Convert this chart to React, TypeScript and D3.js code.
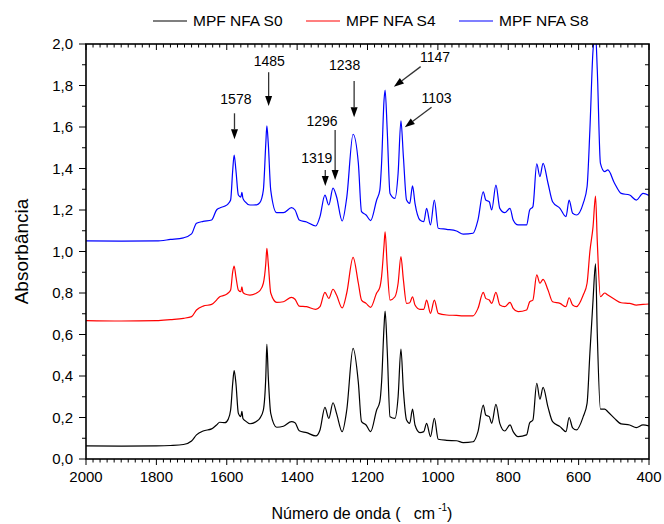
import React from "react";
import * as d3 from "d3";

// FTIR spectra
const wavenumbers = [
  2000, 1900, 1800, 1760, 1723, 1700, 1686, 1667, 1643, 1629,
  1620, 1605, 1596, 1589, 1583, 1579, 1574, 1567, 1560, 1557,
  1554, 1548, 1534, 1515, 1506, 1496, 1489, 1486, 1482, 1475,
  1458, 1439, 1416, 1406, 1394, 1373, 1347, 1335, 1321, 1310,
  1298, 1288, 1272, 1259, 1241, 1226, 1217, 1204, 1191, 1174,
  1165, 1160, 1153, 1150, 1144, 1136, 1122, 1113, 1105, 1098,
  1089, 1080, 1072, 1065, 1051, 1040, 1032, 1021, 1010, 999,
  975, 947, 928, 900, 886, 871, 864, 854, 847, 835,
  824, 810, 795, 786, 772, 748, 739, 730, 719, 710,
  701, 687, 674, 653, 636, 627, 617, 606, 587, 576,
  568, 559, 552, 547, 538, 526, 517, 498, 479, 455,
  436, 417, 400,
];

const s0 = [
  0.063, 0.062, 0.063, 0.065, 0.07, 0.087, 0.116, 0.135, 0.145, 0.164,
  0.177, 0.175, 0.191, 0.236, 0.366, 0.426, 0.366, 0.22, 0.204, 0.23,
  0.195, 0.185, 0.17, 0.182, 0.196, 0.236, 0.397, 0.553, 0.397, 0.22,
  0.153, 0.158, 0.18, 0.175, 0.136, 0.127, 0.111, 0.14, 0.249, 0.196,
  0.271, 0.22, 0.132, 0.236, 0.533, 0.368, 0.18, 0.164, 0.132, 0.236,
  0.276, 0.37, 0.638, 0.713, 0.525, 0.204, 0.196, 0.3, 0.53, 0.332,
  0.188, 0.172, 0.24, 0.164, 0.127, 0.132, 0.172, 0.108, 0.196, 0.095,
  0.09, 0.088, 0.079, 0.083, 0.132, 0.26, 0.212, 0.204, 0.172, 0.263,
  0.172, 0.135, 0.164, 0.132, 0.108, 0.116, 0.175, 0.188, 0.365, 0.288,
  0.345, 0.25, 0.18, 0.156, 0.132, 0.2, 0.15, 0.14, 0.204, 0.268,
  0.51, 0.766, 0.94, 0.606, 0.24, 0.24, 0.228, 0.196, 0.169, 0.164,
  0.151, 0.164, 0.16,
];

const s4 = [
  0.667, 0.665, 0.667, 0.672, 0.678, 0.686, 0.718, 0.737, 0.745, 0.766,
  0.782, 0.79, 0.8, 0.814, 0.903, 0.93, 0.879, 0.814, 0.806, 0.83,
  0.803, 0.795, 0.79, 0.8, 0.811, 0.847, 0.943, 1.015, 0.943, 0.8,
  0.755, 0.758, 0.779, 0.77, 0.737, 0.734, 0.721, 0.734, 0.803, 0.774,
  0.818, 0.79, 0.728, 0.8, 0.972, 0.847, 0.766, 0.75, 0.731, 0.8,
  0.827, 0.879, 1.03, 1.095, 0.93, 0.766, 0.782, 0.847, 0.975, 0.863,
  0.75, 0.753, 0.782, 0.742, 0.721, 0.721, 0.766, 0.702, 0.766, 0.702,
  0.694, 0.692, 0.69, 0.69, 0.726, 0.803, 0.774, 0.766, 0.75, 0.803,
  0.742, 0.734, 0.755, 0.726, 0.71, 0.718, 0.758, 0.766, 0.887, 0.847,
  0.866, 0.814, 0.758, 0.75, 0.734, 0.777, 0.742, 0.734, 0.79, 0.847,
  1.0, 1.12, 1.267, 1.05, 0.782, 0.8, 0.79, 0.77, 0.753, 0.75,
  0.742, 0.745, 0.747,
];

const s8 = [
  1.051, 1.05, 1.051, 1.058, 1.066, 1.085, 1.136, 1.145, 1.152, 1.2,
  1.21, 1.219, 1.23, 1.248, 1.393, 1.465, 1.393, 1.272, 1.262, 1.285,
  1.256, 1.24, 1.224, 1.225, 1.235, 1.296, 1.521, 1.605, 1.521, 1.296,
  1.187, 1.187, 1.211, 1.2, 1.152, 1.142, 1.123, 1.168, 1.272, 1.224,
  1.305, 1.264, 1.147, 1.26, 1.565, 1.425, 1.192, 1.176, 1.149, 1.248,
  1.296, 1.425, 1.73, 1.778, 1.586, 1.28, 1.256, 1.377, 1.63, 1.457,
  1.248, 1.232, 1.316, 1.232, 1.152, 1.144, 1.208, 1.128, 1.248, 1.112,
  1.107, 1.099, 1.084, 1.088, 1.152, 1.288, 1.248, 1.24, 1.2, 1.32,
  1.208, 1.187, 1.208, 1.152, 1.128, 1.128, 1.2, 1.216, 1.422, 1.361,
  1.425, 1.329, 1.24, 1.208, 1.168, 1.248, 1.184, 1.176, 1.232, 1.312,
  1.586, 1.971, 2.05, 1.876, 1.425, 1.385, 1.393, 1.329, 1.28, 1.272,
  1.248, 1.28, 1.27,
];

const seriesNames = ["MPF NFA S0", "MPF NFA S4", "MPF NFA S8"];
const seriesColors = ["#000000", "#ff0000", "#0000ff"];
const seriesValues = [s0, s4, s8];

// peak annotations, in data units: [wavenumber, absorbance]
const peakLabels = ["1578", "1485", "1319", "1296", "1238", "1147", "1103"];
const arrowFrom = [[1578, 1.666], [1481, 1.864], [1320, 1.393], [1292, 1.586], [1238, 1.822], [1049, 1.891], [1018, 1.695]];
const arrowTo = [[1578, 1.541], [1481, 1.701], [1320, 1.316], [1292, 1.345], [1238, 1.647], [1125, 1.794], [1094, 1.599]];
const labelAt = [[1574, 1.713], [1479, 1.894], [1344, 1.428], [1329, 1.605], [1265, 1.875], [1008, 1.915], [1004, 1.717]];

const W = 664;
const H = 524;
const margin = { top: 44, right: 15, bottom: 65, left: 86 };
const font = "'Liberation Sans', Arial, Helvetica, sans-serif";

const comma = (v: number) => d3.format(".1f")(v).replace(".", ",");

export default function App() {
  const x = d3.scaleLinear().domain([2000, 400]).range([margin.left, W - margin.right]);
  const y = d3.scaleLinear().domain([0, 2]).range([H - margin.bottom, margin.top]);
  const [x0, x1] = x.range();
  const [yb, yt] = y.range();

  const line = d3
    .line<number>()
    .x((d, i) => x(wavenumbers[i]))
    .y((d) => y(d))
    .curve(d3.curveMonotoneX);

  const xMajor = d3.range(2000, 399, -200);
  const xMinor = d3.range(2000, 399, -20).filter((v) => v % 200 !== 0);
  const yMajor = d3.range(0, 2.01, 0.2);
  const yMinor = d3.range(0.1, 2, 0.2);
  const yAll = d3.range(0.1, 2, 0.1);

  const arrows = peakLabels.map((lab, i) => {
    const sx = x(arrowFrom[i][0]);
    const sy = y(arrowFrom[i][1]);
    const tx = x(arrowTo[i][0]);
    const ty = y(arrowTo[i][1]);
    const len = Math.hypot(tx - sx, ty - sy);
    const ux = (tx - sx) / len;
    const uy = (ty - sy) / len;
    const bx = tx - ux * 10;
    const by = ty - uy * 10;
    const head = [
      [tx, ty],
      [bx - uy * 3.5, by + ux * 3.5],
      [bx + uy * 3.5, by - ux * 3.5],
    ];
    return { lab, sx, sy, bx, by, head, lx: x(labelAt[i][0]), ly: y(labelAt[i][1]) };
  });

  const legendX = [153, 306, 459];

  return (
    <svg
      width={W}
      height={H}
      style={{ position: "absolute", left: 0, top: 0, background: "#fff" }}
      fontFamily={font}
    >
      <defs>
        <clipPath id="plot">
          <rect x={x0} y={yt} width={x1 - x0} height={yb - yt} />
        </clipPath>
      </defs>

      {/* spectra */}
      <g clipPath="url(#plot)" fill="none">
        {seriesValues.map((vals, k) => (
          <path key={k} d={line(vals) || ""} stroke={seriesColors[k]} strokeWidth={1.2} />
        ))}
      </g>

      {/* frame */}
      <rect x={x0} y={yt} width={x1 - x0} height={yb - yt} fill="none" stroke="#000" strokeWidth={1.6} />

      {/* bottom + top ticks */}
      <g stroke="#000" strokeWidth={1}>
        {xMajor.map((v) => (
          <g key={"xm" + v}>
            <line x1={x(v)} x2={x(v)} y1={yb} y2={yb + 6} />
            <line x1={x(v)} x2={x(v)} y1={yt} y2={yt + 6} />
          </g>
        ))}
        {xMinor.map((v) => (
          <g key={"xn" + v}>
            <line x1={x(v)} x2={x(v)} y1={yb} y2={yb + 3.5} />
            <line x1={x(v)} x2={x(v)} y1={yt} y2={yt + 3.5} />
          </g>
        ))}
        {yMajor.map((v) => (
          <line key={"ym" + v} x1={x0 - 7} x2={x0} y1={y(v)} y2={y(v)} />
        ))}
        {yMinor.map((v) => (
          <line key={"yn" + v} x1={x0 - 4} x2={x0} y1={y(v)} y2={y(v)} />
        ))}
        {yAll.map((v) => (
          <line key={"yr" + v} x1={x1 - 4} x2={x1} y1={y(v)} y2={y(v)} />
        ))}
      </g>

      {/* tick labels */}
      <g fontSize={15} fill="#000">
        {xMajor.map((v) => (
          <text key={"xl" + v} x={x(v)} y={yb + 23} textAnchor="middle">
            {v}
          </text>
        ))}
        {yMajor.map((v) => (
          <text key={"yl" + v} x={x0 - 13} y={y(v)} dy="0.35em" textAnchor="end">
            {comma(v)}
          </text>
        ))}
      </g>

      {/* axis titles */}
      <text x={362} y={519} fontSize={16} textAnchor="middle" style={{ whiteSpace: "pre" }}>
        {"Número de onda (   cm"}
        <tspan fontSize={10} dx={3} dy={-8}>
          -1
        </tspan>
        <tspan dy={8}>)</tspan>
      </text>
      <text
        transform={`translate(28,${(yb + yt) / 2}) rotate(-90)`}
        fontSize={19}
        textAnchor="middle"
      >
        Absorbância
      </text>

      {/* legend */}
      <g fontSize={15.5}>
        {seriesNames.map((name, k) => (
          <g key={name} transform={`translate(${legendX[k]},21)`}>
            <line x1={0} x2={34} y1={0} y2={0} stroke={seriesColors[k]} strokeWidth={1.2} />
            <text x={40} y={0} dy="0.35em">
              {name}
            </text>
          </g>
        ))}
      </g>

      {/* peak arrows */}
      <g>
        {arrows.map((a) => (
          <g key={a.lab}>
            <line x1={a.sx} y1={a.sy} x2={a.bx} y2={a.by} stroke="#333" strokeWidth={1.3} />
            <polygon points={a.head.map((p) => p.join(",")).join(" ")} fill="#000" />
            <text x={a.lx} y={a.ly} fontSize={14} textAnchor="middle">
              {a.lab}
            </text>
          </g>
        ))}
      </g>
    </svg>
  );
}
